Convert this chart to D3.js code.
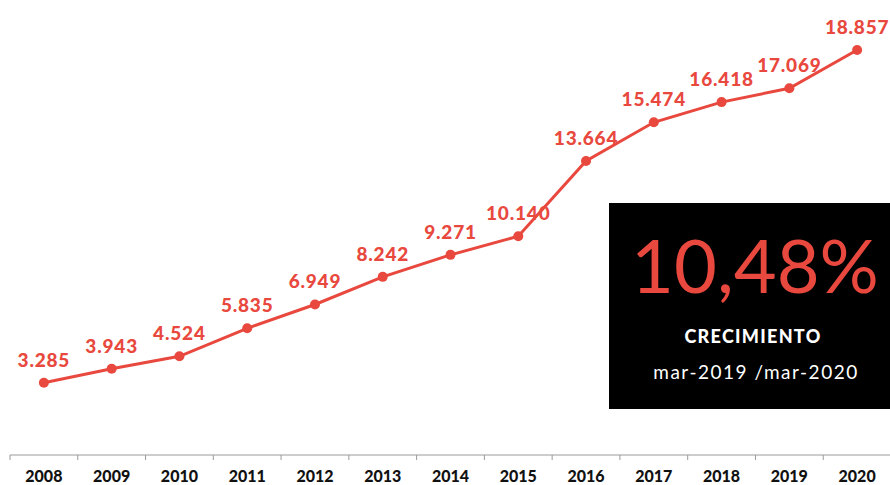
<!DOCTYPE html>
<html>
<head>
<meta charset="utf-8">
<script src="https://cdn.jsdelivr.net/npm/d3@7"></script>
<style>
  body { margin: 0; background: #fff; }
  svg { display: block; }
</style>
</head>
<body>
<svg id="chart" width="890" height="485"></svg>
<script>
const years = ["2008", "2009", "2010", "2011", "2012", "2013", "2014", "2015", "2016", "2017", "2018", "2019", "2020"];
const values = [3285, 3943, 4524, 5835, 6949, 8242, 9271, 10140, 13664, 15474, 16418, 17069, 18857];
const valueLabels = ["3.285", "3.943", "4.524", "5.835", "6.949", "8.242", "9.271", "10.140", "13.664", "15.474", "16.418", "17.069", "18.857"];
const growthValue = "10,48%";
const growthTitle = "CRECIMIENTO";
const growthPeriod = "mar-2019 /mar-2020";

const red = "#e8483d";
const svg = d3.select("#chart");

const x = d3.scaleBand().domain(years).range([10, 891]);
const y = d3.scaleLinear().domain([0, 18857]).range([453, 50]);

// axis line + ticks at band boundaries
const axisY = 455;
svg.append("line")
  .attr("x1", 10).attr("x2", 891)
  .attr("y1", axisY).attr("y2", axisY)
  .attr("stroke", "#9a9a9a").attr("stroke-width", 1);

svg.selectAll(".tick")
  .data(years)
  .enter().append("line")
  .attr("x1", d => x(d)).attr("x2", d => x(d))
  .attr("y1", axisY).attr("y2", axisY + 5)
  .attr("stroke", "#9a9a9a").attr("stroke-width", 1);

svg.selectAll(".year")
  .data(years)
  .enter().append("text")
  .attr("x", d => x(d) + x.bandwidth() / 2)
  .attr("y", 482)
  .attr("text-anchor", "middle")
  .style("font-family", "Lato, 'DejaVu Sans', sans-serif")
  .style("font-weight", "900")
  .style("font-size", "16px")
  .attr("fill", "#111")
  .text(d => d);

// line
const data = years.map((yr, i) => ({ year: yr, value: values[i], label: valueLabels[i] }));
const line = d3.line()
  .x(d => x(d.year) + x.bandwidth() / 2)
  .y(d => y(d.value));

svg.append("path")
  .datum(data)
  .attr("d", line)
  .attr("fill", "none")
  .attr("stroke", red)
  .attr("stroke-width", 3);

svg.selectAll(".dot")
  .data(data)
  .enter().append("circle")
  .attr("cx", d => x(d.year) + x.bandwidth() / 2)
  .attr("cy", d => y(d.value))
  .attr("r", 5)
  .attr("fill", red);

svg.selectAll(".val")
  .data(data)
  .enter().append("text")
  .attr("x", d => x(d.year) + x.bandwidth() / 2)
  .attr("y", d => y(d.value) - 16)
  .attr("text-anchor", "middle")
  .style("font-family", "Lato, 'DejaVu Sans', sans-serif")
  .style("font-weight", "900")
  .style("font-size", "19px")
  .style("letter-spacing", "0.8px")
  .attr("fill", red)
  .text(d => d.label);

// growth box
const box = svg.append("g");
box.append("rect")
  .attr("x", 609).attr("y", 203)
  .attr("width", 281).attr("height", 206)
  .attr("fill", "#000");

box.append("text")
  .attr("x", 755).attr("y", 293)
  .attr("text-anchor", "middle")
  .style("font-family", "Lato, sans-serif")
  .style("font-weight", "400")
  .style("font-size", "74px")
  .attr("fill", red)
  .text(growthValue);

box.append("text")
  .attr("x", 753).attr("y", 343)
  .attr("text-anchor", "middle")
  .style("font-family", "Lato, sans-serif")
  .style("font-weight", "900")
  .style("font-size", "18px")
  .style("letter-spacing", "1.3px")
  .attr("fill", "#fff")
  .text(growthTitle);

box.append("text")
  .attr("x", 756).attr("y", 379)
  .attr("text-anchor", "middle")
  .style("font-family", "Lato, sans-serif")
  .style("font-weight", "400")
  .style("font-size", "19px")
  .style("letter-spacing", "1.5px")
  .attr("fill", "#fff")
  .text(growthPeriod);
</script>
</body>
</html>
